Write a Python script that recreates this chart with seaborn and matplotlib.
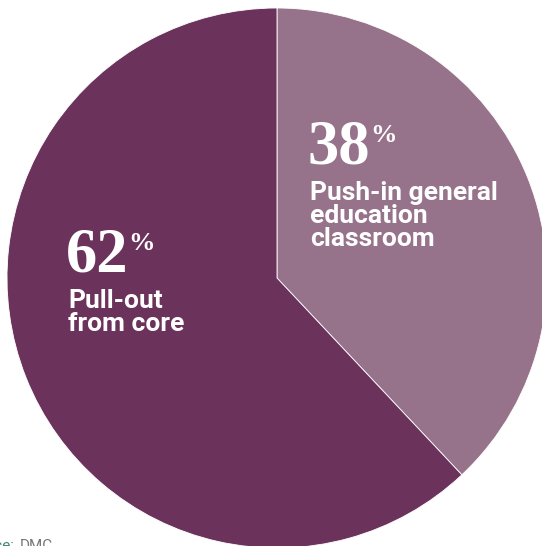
import matplotlib
matplotlib.use("Agg")
import matplotlib.pyplot as plt
import seaborn as sns

categories = ["Push-in general\neducation\nclassroom", "Pull-out\nfrom core"]
values = [38, 62]
pct_labels = ["38", "62"]
colors = ["#97738B", "#6B335C"]

sns.set_theme(style="white")
plt.rcParams['font.family'] = ['Roboto', 'DejaVu Sans']

fig = plt.figure(figsize=(5.42, 5.46), dpi=100)
ax = fig.add_axes([0, 0, 1, 1])

# y axis is inverted below, so counterclockwise in data = clockwise on screen
wedges, _ = ax.pie(values, colors=colors, startangle=-90, counterclock=True,
                   center=(277, 278), radius=270,
                   wedgeprops=dict(linewidth=0.6, edgecolor="white"))
ax.set_xlim(0, 542)
ax.set_ylim(546, 0)
ax.axis("off")

lab_pos = [(308, 163), (66, 271)]
for (x, y), p, cat in zip(lab_pos, pct_labels, categories):
    t = ax.text(x, y, p, fontsize=45, fontweight="bold", family="Liberation Serif",
                color="white", ha="left", va="baseline")
    ax.annotate("%", xy=(1, 1), xycoords=t, xytext=(-0.5, -3.5), textcoords="offset points",
                fontsize=19, fontweight="bold", family="Liberation Serif",
                color="white", ha="left", va="top")
    ax.text(x + 2, y + 18, cat, fontsize=19, fontweight="bold", color="white",
            ha="left", va="top", linespacing=0.96)

ax.text(14, 550, "Source:", fontsize=11, color="#3a8a7a", ha="right", va="baseline")
ax.text(20, 550, "DMC", fontsize=11, color="#777777", ha="left", va="baseline")

fig.savefig("out.png", dpi=100)
